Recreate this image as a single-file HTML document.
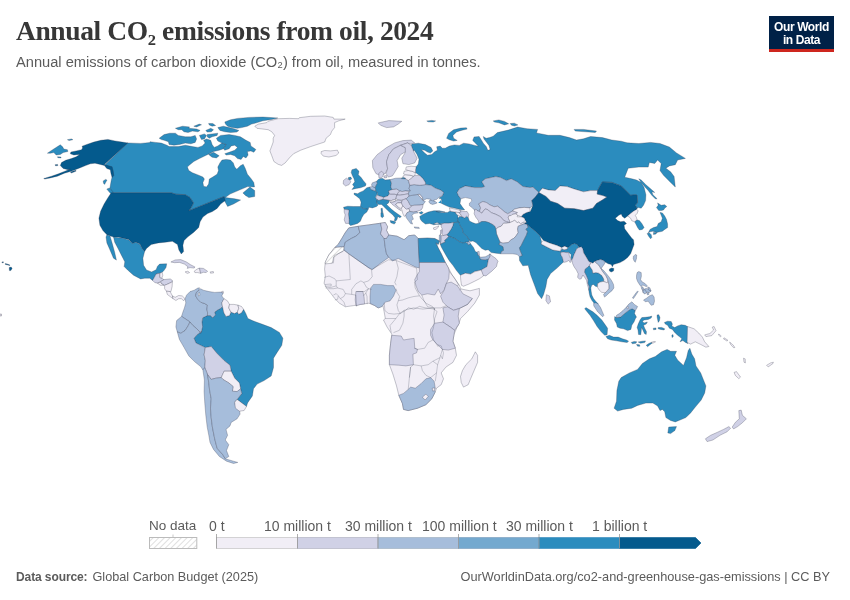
<!DOCTYPE html>
<html><head><meta charset="utf-8"><title>Annual CO₂ emissions from oil, 2024</title>
<style>
html,body{margin:0;padding:0;background:#fff;}
body{width:850px;height:600px;position:relative;overflow:hidden;font-family:"Liberation Sans",sans-serif;}
#title{position:absolute;left:16px;top:15px;font-family:"Liberation Serif",serif;font-weight:bold;font-size:27.5px;line-height:32px;color:#373737;white-space:nowrap;letter-spacing:-0.39px;}
#sub{position:absolute;left:16px;top:52px;font-size:14.65px;line-height:20px;color:#5b5b5b;white-space:nowrap;}
#logo{position:absolute;left:769px;top:16px;width:65px;height:36px;background:#002147;border-bottom:0;}
#logo .t{position:absolute;left:0;right:0;top:5px;text-align:center;color:#fff;font-weight:bold;font-size:12px;line-height:13px;letter-spacing:-0.4px;}
#logo .r{position:absolute;left:0;right:0;bottom:0;height:3px;background:#ce261e;}
#map{position:absolute;left:0;top:0;}
#countries path{stroke:#2a2f45;stroke-opacity:0.55;stroke-width:0.5;stroke-linejoin:round;}
#countries path.b{fill:none;stroke:#2a2f45;stroke-opacity:0.45;stroke-width:0.5;}
.lg{position:absolute;top:518px;font-size:14px;line-height:16px;color:#5b5b5b;white-space:nowrap;}
#src{position:absolute;left:16px;top:568px;font-size:12.7px;line-height:18px;color:#5b5b5b;white-space:nowrap;}
#url{position:absolute;right:20px;top:568px;font-size:12.75px;line-height:18px;color:#5b5b5b;white-space:nowrap;}
</style></head><body>
<div id="title">Annual CO₂ emissions from oil, 2024</div>
<div id="sub">Annual emissions of carbon dioxide (CO₂) from oil, measured in tonnes.</div>
<div id="logo"><div class="t">Our World<br>in Data</div><div class="r"></div></div>
<svg id="map" width="850" height="600" viewBox="0 0 850 600">
<defs><pattern id="hatch" width="4" height="4" patternUnits="userSpaceOnUse" patternTransform="rotate(45)"><rect width="4" height="4" fill="#fff"/><line x1="0" y1="0" x2="0" y2="4" stroke="#d2d2d2" stroke-width="1.4"/></pattern></defs>
<g id="countries">
<path d="M127.6,142.9L140.6,143.4L150,142.5L150,141.7L155.6,142.4L161.3,143.1L166.9,145.2L169.1,146.6L178.2,146.6L185.3,145.2L192.4,146.6L198,147.4L202.2,145.9L205.1,143.1L203.6,140.3L206.5,138.9L210.7,140.3L212.1,144.5L214.2,147.4L217.8,145.9L222,143.1L226.2,144.5L223.4,148.8L219.2,150.2L213.5,151.6L209.3,153.7L205.1,155.8L199.4,158.6L193.8,161.5L189.5,165L187.4,167.1L188.8,170.6L192.4,172.8L198,174.9L202.9,177L204.4,179.1L202.9,182.6L203.6,186.2L206.5,186.9L208.6,184.1L209.3,179.1L212.8,177L217.1,174.2L218.5,170.6L217.8,167.1L219.9,162.9L222,160.1L226.2,159.4L230.5,160.1L233.3,162.9L234.7,167.1L236.8,169.2L240.4,165.7L243.2,164.3L245.3,168.5L247.4,174.2L250.9,178.4L253.8,182.6L254.5,186.9L247.6,186.6L238.2,190.6L230,194.1L225.3,197.6L234.7,198.8L240.6,200L233.5,204L227.6,206.4L224.1,200L224.1,196.6L218.2,198.9L210,202.2L199.4,206.5L188.8,210.7L191.2,207.6L193.5,202.9L190,197.5L185.3,194.7L175.9,194.2L171.2,192.8L111.2,192.8L110,187.6L111.2,180.6L112.4,175.9L111.2,168.8L105.3,164.6Z" fill="#2b8cbe"/>
<path d="M216.4,138.2L220.6,135.4L229.1,134.6L234.7,135.4L240.4,136.8L246,140.3L250.2,142.4L250.9,145.9L255.9,149.5L253.8,152.3L250.9,150.9L247.4,151.6L248.1,155.1L246,157.9L243.2,156.5L241.1,159.4L237.5,158.6L234.7,155.8L230.5,154.4L226.2,155.1L224.8,153.7L229.1,152.3L234.7,150.2L237.5,147.4L234.7,145.2L231.2,145.9L229.1,148.8L224.8,150.2L223.4,148.8L226.2,144.5L222,143.1L217.8,141Z" fill="#2b8cbe"/>
<path d="M208.6,154.4L213.5,152.3L219.2,155.8L216.4,157.9L212.1,157.2Z" fill="#2b8cbe"/>
<path d="M159.2,138.2L164.1,134.6L169.8,133.2L175.4,133.2L178.2,135.4L185.3,136.8L190.9,136.8L195.2,135.4L196.6,138.9L195.2,142.4L190.9,143.8L185.3,143.1L179.6,144.5L174,145.2L169.1,144.5L168.4,141.7L164.1,140.3L161.3,139.6Z" fill="#2b8cbe"/>
<path d="M175.4,128.3L182.5,126.2L189.5,126.9L188.8,128.3L196.6,129L200.1,130.4L198,131.8L192.4,131.1L188.1,132.5L183.9,131.8L181.8,129.7L178.2,129.7Z" fill="#2b8cbe"/>
<path d="M193.8,126.2L199.4,124.1L201.5,124.8L196.6,126.9Z" fill="#2b8cbe"/>
<path d="M205.8,130.4L210.7,128.3L213.5,129.7L211.4,131.8L207.2,132.1Z" fill="#2b8cbe"/>
<path d="M208.6,123.4L212.8,123.6L215.6,125.5L212.1,126.2L209.3,125Z" fill="#2b8cbe"/>
<path d="M199.4,135.4L204.4,133.9L206.5,135.4L204.4,138.9L201.5,139.6Z" fill="#2b8cbe"/>
<path d="M207.2,134.6L212.1,133.9L217.8,133.2L217.1,135.4L212.1,136.8L209.3,138.2L207.2,136.8Z" fill="#2b8cbe"/>
<path d="M217.8,127.6L223.4,126.2L229.1,127.6L234.7,129L238.9,130.4L236.8,132.1L230.5,132.5L224.8,131.8L219.9,130.4Z" fill="#2b8cbe"/>
<path d="M224.8,121.9L230.5,119.8L237.5,118.4L248.8,117.4L262.9,117L277.8,118L271.4,119.5L262.9,120.8L257.3,122.6L251.6,124.1L247.4,126.2L241.8,127.6L237.5,128.3L231.9,127.6L227.6,126.2L225.5,124.1Z" fill="#2b8cbe"/>
<path d="M242.9,192.9L250,187.1L254.7,190.6L254.7,196.5L248.8,197.6L245.3,195.3Z" fill="#2b8cbe"/>
<path d="M82.1,146.2L86.8,144.4L93.8,142.1L100.9,140.3L107.9,139.4L115,140.9L122.1,142.1L127.9,142.9L104.4,164.4L107.9,165.6L112.1,166.8L113.2,170.9L113.8,175.6L112.1,177.4L110.9,173.2L110.3,169.7L106.8,168.5L104.4,165.6L100.3,164.4L95,163.2L90.3,163.8L85.6,165.6L79.7,167.9L73.8,170.3L70.3,171.5L64.4,173.2L57.4,176.2L50.3,177.9L44.4,179.1L43.8,178.5L51.5,176.2L58.5,173.8L65.6,170.9L70.3,169.1L67.9,169.7L63.2,168.5L60.3,165.6L61.5,162.6L65.6,160.3L71.5,158.5L76.2,156.8L79.7,154.4L73.8,155L70.3,153.8L70.9,152.1L76.2,150.9L81.5,149.7L82.6,147.9Z" fill="#045a8d"/>
<path d="M70.3,172.1L75.6,170.3L76.2,171.1L71.5,173Z" fill="#045a8d"/>
<path d="M103.2,180.9L105.6,179.4L107,180.1L105.6,182.6L104.6,184.4L103.5,183.2Z" fill="#2b8cbe"/>
<path d="M106.8,189.1L109.7,187.9L113.2,192.1L112.1,194.4L109.7,192.6Z" fill="#2b8cbe"/>
<path d="M111.2,192.8L171.2,192.8L175.9,194.2L185.3,194.7L190,197.5L193.5,202.9L191.2,207.6L188.8,210.7L199.4,206.5L210,202.2L218.2,198.9L224.1,196.6L225.3,200.6L220.6,204.1L217.1,208.4L212.4,211.6L207.6,213.5L202.9,217.1L200.1,221.8L198.7,227.6L193.5,232.4L187.6,237.1L184.1,240.6L182.9,245.3L183.6,251.6L181.3,254L178.9,250L177.5,244.6L172.4,241.3L165.3,242.2L158.2,242.9L151.2,244.6L146.5,248.4L144.6,251.6L142.2,248.8L139.9,244.1L135.9,242.2L132.4,243.6L128.8,239.4L122.9,238.2L118.2,237.1L113.5,237.1L106.9,234.7L102.9,230.5L99.9,225.3L98.9,218.2L100.6,211.2L104.1,204.1L107.6,198.2Z" fill="#045a8d"/>
<path d="M106.9,234.7L110,235.9L112.4,244.1L114.7,252.4L116.4,260.1L113.5,258.2L110,250L106.9,242.9L106,237.1Z" fill="#2b8cbe"/>
<path d="M113.5,237.1L122.9,238.2L128.8,239.9L132.4,243.6L135.9,242.2L139.9,244.6L142.2,248.8L144.6,251.6L142.9,258.2L143.6,265.3L146.5,270L151.6,271.9L156.1,269.8L157.5,266.2L159.6,264.1L166.7,263.8L166,267.6L163.9,270.5L162.2,272.3L159.6,273.3L156.1,274L154.7,276.8L152.6,280.4L149.8,278.2L144.8,278.2L140.6,278.9L133.5,275.2L127.6,270L124.1,266.5L124.8,261.8L121.8,255.9L118.2,248.8L114.7,242.2Z" fill="#2b8cbe"/>
<path d="M152.6,280.4L154.7,276.8L156.1,274L159.6,273.3L159.9,277.5L161.8,278.2L163.9,279.6L160.4,281.8L157.5,283.2L154.7,282.5Z" fill="#d0d1e6"/>
<path d="M159.9,273.3L162.2,272.3L162.8,275.4L161.8,278.2L159.9,277.5Z" fill="#f1eef6"/>
<path d="M160.4,281.8L163.9,279.6L170.2,278.9L172.4,280.4L172.4,281.8L168.1,283.9L164.6,285.3L161.8,283.9Z" fill="#d0d1e6"/>
<path d="M157.5,283.2L160.4,282.2L161.8,283.9L163.9,285.3L160.4,285.3Z" fill="#f1eef6"/>
<path d="M164.6,285.3L168.1,283.9L172.4,281.8L172.1,286.7L170.9,291.6L166.4,291.2L164.6,288.8Z" fill="#f1eef6"/>
<path d="M166.4,291.2L170.2,291.6L172.4,295.9L173.1,298.7L170.2,296.6L167.4,294.5Z" fill="#f1eef6"/>
<path d="M172.4,295.9L175.2,297.3L178.7,295.5L182.2,295.9L185.1,298.7L183.6,300.8L181.5,298.7L178.7,298.7L175.9,300.5L173.1,298.7Z" fill="#f1eef6"/>
<path d="M170.9,262L175.2,259.9L180.8,259.6L186.5,262L190.7,264.8L194.9,266.9L194.2,268.1L190,267.6L187.2,268.4L187.9,266.7L184.4,264.1L179.4,262.4L174.5,262.7Z" fill="#d0d1e6"/>
<path d="M194.2,271.2L197.1,269.1L199.2,268.1L199.9,269.8L200.6,273.3L197.8,272.6L194.9,272.6Z" fill="#f1eef6"/>
<path d="M199.2,268.1L203.4,268.4L207.6,271.2L206.2,272.6L203.4,272.3L200.6,273.3L199.9,269.8Z" fill="#d0d1e6"/>
<path d="M185.1,271.9L187.9,271.2L189.6,272.6L187.2,273.4Z" fill="#f1eef6"/>
<path d="M210.2,271.9L213.3,271.5L213.6,272.9L210.5,273.2Z" fill="#f1eef6"/>
<path d="M221.5,291.6L223.2,291.2L223.5,292.8L221.8,293.1Z" fill="#f1eef6"/>
<path d="M254.8,126.2L258.4,124.1L266.8,122.6L268.2,121.2L278.1,118.7L289.4,118.4L298.6,118.7L299.3,117.7L310.6,116.3L324.7,116L333.2,117.4L333.9,119.1L345.2,119.1L338.8,120.8L334.6,122.6L334.6,127.6L331.8,131.1L330.4,134.6L326.1,138.2L324.7,142L319.1,143.8L310.6,146.6L300.7,150.2L293.6,153.7L289.4,157.9L285.2,162.9L281.6,165.4L278.1,164.3L273.9,161.5L271.8,155.8L269.9,150.9L271.8,145.9L273.2,142L273.2,138.2L274.6,135.4L271.8,131.8L268.2,129.7L262.6,129L256.9,128.3Z" fill="#f1eef6"/>
<path d="M321.2,151.6L324.7,150.5L330.4,150.9L337.4,150.2L338.8,153L336,155.5L328.9,157L323.3,156.1L321.2,153.7Z" fill="#f1eef6"/>
<path d="M202,322L202.7,317.8L207.4,315.6L210.5,315.6L212.6,317.8L215.4,314.9L214.7,312.1L217.5,310L220.4,308.6L222.5,306.5L223.9,312.8L226,316.4L229.5,315.6L230.9,312.1L234.5,313.5L237.3,312.1L238.7,314.2L241.5,312.8L243.6,309.3L245.8,313.5L247.9,318.5L252.4,320.6L261.8,324.1L271.2,327.6L279.4,332.4L282.9,338.2L281.8,345.3L277.1,352.4L273.5,358.2L273.5,367.6L271.2,375.9L264.1,380.6L257.1,384.1L253.5,388.8L252.4,395.9L247.6,402.9L246.5,406.5L241.8,402.9L237.1,399.4L241.8,393.5L240.6,388.8L239.4,382.9L234.7,378.2L231.2,371.2L230,365.3L224.1,360.6L217.1,353.5L211.2,346.5L205.3,347.6L200.6,345.3L195.9,342.9L194,338.2L197.1,334.7L201.8,331.2Z" fill="#2b8cbe"/>
<path d="M185.1,298.7L186.5,295.2L190,291.6L194.2,290.2L197.8,288.1L199.5,287.8L198.9,290.2L196.4,292.4L195.6,295.9L197.8,299.4L200.6,302.2L204.8,303.6L207.4,305.1L206.9,309.3L207.6,312.8L207.4,315.6L202.7,317.8L202,322L202.7,326.9L200.6,333.3L199.2,331.2L196.4,328.4L192.8,325.5L190,322L185.8,319.2L181.5,316.4L182.9,312.1L184.4,307.9L185.8,302.9Z" fill="#a6bddb"/>
<path d="M198.9,290.2L200.6,288.8L203.4,290.2L209.1,291.6L214.7,292.4L220.4,292.1L223.2,293.1L221.8,295.9L223.9,298.7L221.8,302.9L222.5,306.5L220.4,308.6L217.5,310L214.7,312.1L215.4,314.9L212.6,317.8L210.5,315.6L207.4,315.6L207.6,312.8L206.9,309.3L207.4,305.1L204.8,303.6L200.6,302.2L197.8,299.4L195.6,295.9L196.4,292.4Z" fill="#a6bddb"/>
<path d="M198.2,293.1L199.5,292.4L199.9,295.2L198.5,295.9Z" fill="#ffffff"/>
<path d="M223.9,298.7L227.4,300.8L229.5,304.4L228.8,307.9L230.9,312.1L229.5,315.6L226,316.4L223.9,312.8L222.5,306.5L221.8,302.9Z" fill="#f1eef6"/>
<path d="M229.5,304.4L233.8,304.4L238,305.1L238.7,308.6L237.3,312.1L234.5,313.5L230.9,312.1L228.8,307.9Z" fill="#f1eef6"/>
<path d="M238,305.1L241.5,306.5L243.6,309.3L241.5,312.8L238.7,314.2L237.3,312.1L238.7,308.6Z" fill="#f1eef6"/>
<path d="M176.6,320.6L181.5,316.4L185.8,319.2L190,322L187.9,326.2L185.1,330.5L180.8,333.3L177.3,331.9L175.9,326.9Z" fill="#a6bddb"/>
<path d="M177.3,331.9L180.8,333.3L185.1,330.5L187.9,326.2L190,322L192.8,325.5L196.4,328.4L199.2,331.2L200.6,333.3L201.8,331.2L197.1,334.7L194,338.2L195.9,342.9L200.6,345.3L205.3,347.6L204.1,354.7L205.3,360.6L204.8,367.6L202.9,370L200.6,366.5L194.7,361.8L188.8,355.9L184.1,347.6L179.4,339.4Z" fill="#a6bddb"/>
<path d="M205.3,347.6L211.2,346.5L217.1,353.5L224.1,360.6L230,365.3L231.2,371.2L224.1,371.2L221.3,377.5L215.9,378.2L211.2,379.4L207.6,374.7L204.8,367.6L205.3,360.6L204.1,354.7Z" fill="#d0d1e6"/>
<path d="M224.1,371.2L231.2,371.2L234.7,378.2L239.4,382.9L240.6,388.8L237.1,391.6L232.4,391.2L233.1,386.5L228.8,382.9L222.9,379.4L221.3,377.5Z" fill="#f1eef6"/>
<path d="M202.9,370L204.8,367.6L207.6,374.7L208.8,382.9L209.5,389.4L211.2,398.8L210.5,408.2L211.2,417.6L212.4,427.1L214.7,438.8L217.1,448.2L222.9,454.8L225.3,458.8L233.5,461.2L237.8,462.4L233.5,463.5L226.5,461.2L219.4,456.5L213.5,449.4L210,442.4L208.8,435.3L207.2,427.1L205.8,415.3L204.8,403.5L204.1,391.8L204.4,380Z" fill="#a6bddb"/>
<path d="M207.6,374.7L211.2,379.4L215.9,378.2L221.3,377.5L222.9,379.4L228.8,382.9L233.1,386.5L232.4,391.2L237.1,391.6L240.6,388.8L241.8,393.5L237.1,399.4L234.7,401.8L234.7,402.4L235.9,407.1L239.4,409.4L240.1,414.1L237.1,418.8L231.2,422.4L230,425.9L226,429.4L227.6,435.3L225.3,440L228.8,444.7L226.5,450.6L228.8,456.5L225.3,458.8L222.9,454.8L217.1,448.2L214.7,438.8L212.4,427.1L211.2,417.6L210.5,408.2L211.2,398.8L209.5,389.4L208.8,382.9Z" fill="#a6bddb"/>
<path d="M237.1,399.4L241.8,402.9L246.5,406.5L244.1,410.5L239.4,411.2L235.4,408.1L234.7,402.5Z" fill="#f1eef6"/>
<path d="M412,143.9L418.4,143.2L425.4,144.6L431.1,147.5L432.8,151L430.4,153.1L427.5,152L424.7,150.3L421.2,149.6L424.7,153.1L427.5,155.2L431.8,154.5L434.6,151.7L437.4,150.3L436.7,146.8L440.2,146.1L442.4,148.2L445.2,148.2L449.4,146.1L454.4,144.9L459.3,145.4L463.5,143.2L469.2,143.9L474.8,145.4L478.4,146.3L475.5,143.2L472.7,140.4L474.1,136.9L479.1,136.5L481.2,139.7L483.3,143.2L486.4,146.8L487.8,150.3L490.1,149.6L488.9,145.4L486.1,141.8L484,139L483.3,136.5L486.1,138.3L489.6,137.6L493.2,136.2L497.4,132.6L508.2,130.1L517.6,127.1L527.1,128.7L537.6,129.4L536.5,132.9L548.2,135.3L560,135.3L569.4,137.6L576.5,140L583.5,138.8L590.6,136.5L602.4,137.6L611.8,140L621.2,141.2L627.1,142.8L638.8,143.5L650.6,142.4L660,143.5L669.4,147.1L676.5,152.9L685.4,158.4L677.6,160L675.3,164.7L669.4,165.9L665.9,168.2L670.6,171.8L674.1,176.5L675.3,187.1L670.6,182.4L663.5,175.3L660,170.6L661.2,163.5L657.6,160L654.8,163.5L649.4,162.4L648.2,167.1L638.8,167.1L628.2,168.2L624.7,177.2L631.8,178.8L636.5,180L641.2,182.4L644.1,187.6L645.9,194.7L645.6,200.6L643.5,205.3L641.2,208.2L638.2,207.6L637.1,208.2L635.3,205.3L637.6,202.4L637.1,195.3L635.3,194.7L630.6,195.3L625.9,190.6L621.2,185.9L611.8,182.4L602.4,181.9L600,185.9L597.6,190.6L590.6,190.6L583.5,191.8L574.1,188.9L567.1,186.6L560,185.9L555.3,190.6L548.2,189.9L542.4,188.2L538.8,192.5L532.9,187.1L530,187.6L522.9,186.5L517.1,181.8L511.2,178.8L506.5,180.6L500.6,177.6L495.9,176.5L485.3,178.8L481.8,181.8L484.7,186.5L481.8,187.6L474.7,187.6L465.3,185.9L459.4,188.8L457.1,192.4L458.2,195.3L460.8,198.8L460,203.5L462.4,207.1L464.7,210L460,209.4L455.3,208.2L449.4,207.1L445.3,205.3L441.2,203.2L441.8,200.8L441.2,198.8L438.8,198.2L442.3,195.9L443.7,192.4L440.9,190.2L435.2,188.1L431,185.3L425.4,184.6L425.4,182.5L423.2,178.9L419.7,175.4L415.5,172.6L415.5,169.8L416.2,166.7L418.3,164.1L419,159.2L416.9,154.2L414.1,150L413.5,151.2L411.2,145.3Z" fill="#2b8cbe"/>
<path d="M446.6,138.3L448.7,133.4L453.6,129.8L460.7,128.1L466.4,127.7L467.1,129.1L462.1,130.2L456.5,131.9L452.9,135.5L453.6,138.3L457.2,140.4L453.6,141.1L449.4,139.7Z" fill="#2b8cbe"/>
<path d="M426.8,120.9L431.8,120.4L435.6,120.9L433.2,122.1L428.2,121.8Z" fill="#2b8cbe"/>
<path d="M493.2,120.9L498.8,119.9L504.5,121.4L508.7,123.8L504.5,124.9L498.8,122.8L494.6,122.1Z" fill="#2b8cbe"/>
<path d="M510.1,123.5L514.4,123.2L517.9,124.9L514.4,126L511.5,125.2Z" fill="#2b8cbe"/>
<path d="M574.1,129.4L583.5,129.4L596.5,131.1L595.3,132.5L585.9,131.8L575.3,131.1Z" fill="#2b8cbe"/>
<path d="M638.8,178.8L641.2,180L645.9,184.7L650.6,188.8L654.7,192.4L651.8,191.8L652.9,194.7L657.1,198.8L655.3,198.8L651.8,195.3L648.2,190.6L644.1,185.9L641.2,182.4Z" fill="#2b8cbe"/>
<path d="M401.4,178L403.5,177.2L405.6,178.2L405.6,178.9L401.4,178.7Z" fill="#2b8cbe"/>
<path d="M47.4,153.2L52.6,149.7L60.3,144.8L62.6,146.8L63.8,149.1L67.4,149.7L67.9,151.5L63.2,152.6L60.3,154.4L56.2,155L53.8,152.6L50.3,153.2Z" fill="#2b8cbe"/>
<path d="M67.4,139.7L71.5,138.9L72.9,139.7L69.1,140.6Z" fill="#2b8cbe"/>
<path d="M57.4,156.8L60.9,157L61.1,157.9L57.9,157.7Z" fill="#2b8cbe"/>
<path d="M55,164.8L57.6,164.4L57.9,165.6L55.6,165.8Z" fill="#045a8d"/>
<path d="M378.2,122.9L388.8,120.6L401.8,121.3L398.2,124.1L393.5,126.9L386.5,127.6L380.6,125.3Z" fill="#d0d1e6"/>
<path d="M372.4,160.6L377.1,154.7L386.5,147.6L394.7,142.9L402.9,140.6L411.2,140.1L414.7,142.9L410,144.1L407.6,142.9L400.6,145.3L393.5,148.8L388.8,154.7L386.5,161.8L387.6,168.8L385.3,173.5L380.6,175.9L375.9,173.5L372.8,167.6Z" fill="#d0d1e6"/>
<path d="M386.5,161.8L388.8,154.7L393.5,148.8L400.6,145.3L405.3,147.6L406.5,151.2L400.6,154.7L397.1,160.6L398.2,166.5L394.7,172.4L392.4,175.9L388.4,177.1L386,173.5L387.6,168.8Z" fill="#d0d1e6"/>
<path d="M400.6,145.3L407.6,142.9L411.2,145.3L413.5,151.2L417.1,158.2L414.7,162.9L408.8,164.6L402.9,163.6L401.8,158.2L405.3,152.4L405.3,147.6Z" fill="#d0d1e6"/>
<path d="M351.9,169.8L356.2,168.4L359,171.2L358.3,174.7L361.1,177.5L363.2,180.4L366.1,183.9L365.4,186L360.4,187.8L356.2,188.4L351.9,189.5L354.1,186.7L352.6,184.6L354.8,181.8L354.1,178.9L352.6,176.1L351.2,172.6Z" fill="#2b8cbe"/>
<path d="M348.4,177.5L350.8,177.1L351.7,178.9L349.8,179.9L348.4,179.4Z" fill="#2b8cbe"/>
<path d="M343.5,180.4L346.3,178.2L348.4,179.4L349.8,179.9L350.8,181.8L349.1,184.6L345.6,186L343.2,183.9Z" fill="#d0d1e6"/>
<path d="M354.1,193.1L357.6,193.8L359.7,192.4L363.2,190.9L366.8,187.8L369.6,187L371,189.5L375.2,190.9L377.4,192.4L376.6,195.2L375.2,197.3L377.4,199.4L376.6,202.9L378.1,205.1L376.6,206.5L372.4,207.9L368.9,207.2L368.2,209.3L363.2,208.6L360.4,206.5L361.1,202.2L359.7,198.7L356.2,195.9L354.1,194.5Z" fill="#2b8cbe"/>
<path d="M380.9,208.6L382.3,208.2L382.7,212.1L381.3,212.8Z" fill="#2b8cbe"/>
<path d="M343.5,207.2L347.7,206.2L353.4,206.5L360.4,206.5L363.2,208.6L368.2,209.3L366.8,212.1L363.9,214.2L361.8,217.8L360.4,221.3L357.6,223.4L353.4,224.8L350.5,225.5L349.1,224.1L349.1,219.2L348.4,214.2L349.1,210L344.2,209.3Z" fill="#2b8cbe"/>
<path d="M344.2,209.3L349.1,210L348.4,214.2L349.1,219.2L349.1,223.4L345.6,223.4L344.2,219.9L345.2,214.9L344.2,212.1Z" fill="#d0d1e6"/>
<path d="M369.6,187L372.4,186.4L375.2,187.8L375.9,190.2L375.2,190.9L371,189.5Z" fill="#a6bddb"/>
<path d="M372.4,182.8L376.6,181.3L377.4,183.2L375.9,186L375.2,187.8L372.4,186.4L371.4,185Z" fill="#a6bddb"/>
<path d="M376.6,181.3L378.8,178.9L382.3,178.2L385.1,179.9L390.1,179.6L391.5,183.2L390.8,187L392.2,189.5L388.6,190.9L389.4,193.8L387.9,195.9L383.7,197.3L380.2,196.3L377.4,195.2L377.4,192.4L375.2,190.9L375.9,190.2L375.2,187.8L375.9,186L377.4,183.2Z" fill="#2b8cbe"/>
<path d="M378.8,173.3L381.6,171.2L383.7,173.3L383,176.1L380.9,178L378.8,177.5Z" fill="#d0d1e6"/>
<path d="M383.7,176.1L386.5,175.4L387,177.5L384.4,178Z" fill="#d0d1e6"/>
<path d="M375.9,197.3L377.4,195.2L380.2,196.3L383.7,197.3L383,199.4L378.8,200.5L376.6,199.7Z" fill="#d0d1e6"/>
<path d="M383.7,197.3L387.9,195.9L389.4,193.8L390.8,194L394.3,194L397.1,194.9L396.4,196.6L395.7,199.1L391.5,200.5L387.2,200.1L383,199.4Z" fill="#d0d1e6"/>
<path d="M377.4,199.4L378.8,200.5L383,199.4L387.2,200.1L389.4,200.5L388.6,202.9L386.5,204.4L388.6,206.5L391.5,209.3L395,212.1L399.2,214.9L401.4,216.6L399.9,217.8L397.8,216.4L397.1,219.2L395.7,221.3L394.3,220.6L395,217.8L392.9,214.9L389.4,212.1L386.5,209.3L383.7,206.5L381.6,204.4L378.8,204.4L376.6,202.9Z" fill="#2b8cbe"/>
<path d="M390.1,220.6L394.3,221.3L395.7,222.3L394.3,224.1L390.8,222.7Z" fill="#2b8cbe"/>
<path d="M380.9,212.8L383,212.4L383.7,216.4L382.3,217.8L380.9,216.6Z" fill="#2b8cbe"/>
<path d="M388.6,190.9L392.2,189.5L396.4,188.8L399.9,190.9L397.8,193.1L397.1,194.9L394.3,194L390.8,194L389.4,193.8Z" fill="#d0d1e6"/>
<path d="M391.5,183.2L390.1,179.6L395.7,178.2L401.4,178L401.4,178.7L405.6,178.9L408.4,180.4L409.8,185.3L409.1,188.8L410.5,190.9L405.6,190.9L402.1,191.6L399.9,190.9L396.4,188.8L392.2,189.5L390.8,187Z" fill="#a6bddb"/>
<path d="M397.8,193.1L399.9,190.9L402.1,191.6L405.6,190.9L409.1,191.6L408.4,193.8L404.2,194.5L399.9,195.2L397.1,194.9Z" fill="#d0d1e6"/>
<path d="M396.4,196.6L397.1,194.9L399.9,195.2L404.2,194.5L408.4,193.8L409.1,195.9L406.3,198.7L402.1,200.1L398.5,200.1L396,198.7Z" fill="#d0d1e6"/>
<path d="M389.4,200.5L391.5,200.5L395.7,199.1L396,200.8L392.9,202.2L390.1,202.2Z" fill="#f1eef6"/>
<path d="M390.1,202.2L392.9,202.2L396,200.8L398.5,200.1L402.1,200.8L401.4,202.9L397.8,202.9L395.7,204.4L398.5,207.9L401.4,210.7L398.5,209.3L395,206.5L392.2,204.4Z" fill="#d0d1e6"/>
<path d="M395.7,204.4L397.8,202.9L401.4,202.9L402.8,205.8L401.4,208.6L399.2,207.9Z" fill="#f1eef6"/>
<path d="M402.1,200.1L406.3,198.7L408.4,201.5L409.8,204.4L411.2,206.5L409.1,208.6L406.3,209.3L404.2,207.2L402.8,205.8L401.4,202.9L402.1,200.8Z" fill="#d0d1e6"/>
<path d="M401.4,208.6L402.8,205.8L404.2,207.2L406.3,209.3L409.1,208.6L409.8,211.4L407,212.8L405.6,215.6L404.2,216.4L402.8,213.5L402.1,210.7Z" fill="#f1eef6"/>
<path d="M406.3,198.7L409.1,195.9L414.1,194.9L417.6,194.5L421.1,198L423.2,200.8L425.4,201.5L423.2,204.4L419.7,205.1L414.1,205.3L411.2,205.8L409.8,204.4L408.4,201.5Z" fill="#a6bddb"/>
<path d="M411.2,206.5L411.2,205.8L414.1,205.3L419.7,205.1L423.2,204.4L422.5,207.9L421.1,210L416.9,211.4L413.4,212.1L409.8,211.4L409.1,208.6Z" fill="#d0d1e6"/>
<path d="M405.6,215.6L407,212.8L409.8,211.4L413.4,212.1L416.9,211.4L418.3,212.8L414.1,213.5L411.9,215.2L413.4,219.2L411.2,220.6L412.6,224.1L410.5,223.4L408.4,220.6L406.3,217.8Z" fill="#a6bddb"/>
<path d="M414.1,226.9L419,227.4L419.4,228.4L414.8,228.1Z" fill="#a6bddb"/>
<path d="M417.6,194.5L419.7,194L422.5,197.3L423.2,200.1L421.1,198Z" fill="#f1eef6"/>
<path d="M409.1,188.8L409.8,185.3L414.1,184.6L419.7,185.3L425.4,184.6L431,185.3L435.2,188.1L440.9,190.2L443.7,192.4L442.3,195.9L438.8,197.3L436.6,199.4L433.8,200.1L435.2,202.9L432.4,203.6L429.6,201.5L431,199.4L426.8,198.7L423.9,200.1L423.2,200.8L422.5,197.3L419.7,194L417.6,194.5L414.1,194.9L409.1,195.9L408.4,193.8L409.1,191.6L410.5,190.9Z" fill="#a6bddb"/>
<path d="M409.8,185.3L408.4,180.4L411.2,178.2L413.4,176.1L414.8,175.4L419.7,175.4L423.2,178.9L425.4,182.5L425.4,184.6L419.7,185.3L414.1,184.6Z" fill="#d0d1e6"/>
<path d="M402.8,176.1L405.6,174.7L409.8,175.1L413.4,176.1L411.2,178.2L408.4,180.4L405.6,178.9L405.6,178.2L403.5,177.2Z" fill="#f1eef6"/>
<path d="M404.2,171.2L408.4,170.5L411.9,171.2L415.5,172.6L414.8,175.4L413.4,176.1L409.8,175.1L405.6,174.7L403.5,174Z" fill="#f1eef6"/>
<path d="M406.3,166.9L411.2,166.2L416.2,166.7L415.5,169.8L415.5,172.6L411.9,171.2L408.4,170.5L405.6,169.5Z" fill="#f1eef6"/>
<path d="M419,212.8L421.8,211.4L423.2,212.8L421.1,214.2Z" fill="#2b8cbe"/>
<path d="M419.7,216.4L423.2,214.2L428.2,212.1L433.8,210.7L439.5,210.7L445.1,212.1L435.9,211.5L441.8,212.6L447.6,212.4L450,210.9L451.8,211.5L455.3,212.1L456.1,213.8L457.6,215L458.2,217.9L457.6,220.3L458.8,222.1L453.5,222.6L448.8,223.2L444.1,223.2L440.6,223.8L437.1,222.6L433.5,223.8L442.3,224.8L439.5,223.4L433.8,224.8L429.6,223.4L425.4,224.1L421.8,221.3L420.4,219.2Z" fill="#2b8cbe"/>
<path d="M433.3,227.9L436.5,226.8L438.8,225.8L438.2,227.4L435.9,229.4L433.8,229.4Z" fill="#f1eef6"/>
<path d="M457.1,192.4L459.4,188.8L465.3,185.9L474.7,187.6L481.8,187.6L484.7,186.5L481.8,181.8L485.3,178.8L495.9,176.5L500.6,177.6L506.5,180.6L511.2,178.8L517.1,181.8L522.9,186.5L530,187.6L532.9,187.1L538.8,192.5L535.3,197.1L531.8,200.6L532.9,205.3L530,207.9L524.1,207.4L519.4,207.9L514.7,209.1L512.4,210.9L510,212.6L507.6,213.8L504.1,211.5L500.6,208.5L497.6,206.2L494.1,206.8L490,205L486.5,202.6L482.9,201.5L478.8,203.8L480.6,207.9L479.4,211.5L477.6,210.9L475.9,209.1L474.7,210.3L472.4,207.9L469.4,205.6L469.4,203.2L471.8,200.9L471.2,198.8L465.3,197.6L460.8,198.8L458.2,195.3Z" fill="#a6bddb"/>
<path d="M538.8,192.5L542.4,188.2L548.2,189.9L555.3,190.6L560,185.9L567.1,186.6L574.1,188.9L583.5,191.8L590.6,190.6L597.6,190.6L597.2,194.1L602.4,195.3L607.1,196.9L602.4,200L596.5,203.5L592.9,208.2L583.5,210.6L574.1,208.7L564.7,208.2L557.6,203.5L550.6,201.2L545.9,196.5Z" fill="#f1eef6"/>
<path d="M538.8,192.5L545.9,196.5L550.6,201.2L557.6,203.5L564.7,208.2L574.1,208.7L583.5,210.6L592.9,208.2L596.5,203.5L602.4,200L607.1,196.9L602.4,195.3L597.2,194.1L597.6,190.6L600,185.9L602.4,181.9L611.8,182.4L621.2,185.9L625.9,190.6L630.6,195.3L635.3,194.7L637.1,195.3L637.6,202.4L635.3,205.3L637.1,208.2L636.5,209.4L633.5,211.2L630.6,213.5L627.6,215.9L624.7,218.2L622.4,216.5L621.2,214.1L618.8,215.3L615.3,218.2L617.6,220.6L620.6,221.8L624.1,221.2L626.5,223.5L624.1,225.3L624.7,228.8L628.2,233.5L631.8,238.2L633.5,239.7L634.1,244.4L632.4,249.1L630.6,253.8L627.6,257.4L624.1,260.3L620,262.6L615.9,263.8L613.5,264.4L612.4,266.8L611.2,264.4L608.2,263.8L605.3,262.1L602.9,260.3L600.6,259.5L597.6,260.3L594.7,261.5L592.9,263.2L591.2,262.6L588.8,261.5L587.1,258.5L585.3,255.6L583.5,252.6L582.9,249.1L581.2,246.8L579.4,247.9L577.6,245L574.7,243.5L571.8,244.4L569.4,246.8L567.6,247.4L564.7,246.2L561.8,247.4L556.5,245.3L549.4,242.9L543.5,240.6L540,235.9L535.3,231.2L530.6,227.6L527.1,224.4L524.1,223.8L526.5,222.3L525.3,220.3L524.1,217.9L521.2,216.8L522.9,214.4L526.5,212.6L530,211.5L530.6,211.2L532.9,205.3L531.8,200.6L535.3,197.1Z" fill="#045a8d"/>
<path d="M609.4,269.1L611.8,267.9L613.9,268.5L613.5,270.9L611.2,272.1L609.4,270.9Z" fill="#045a8d"/>
<path d="M633.5,256.2L635.3,254.4L636.7,255L636.5,258.5L635.3,262.3L634.1,261.1L633.2,258.5Z" fill="#a6bddb"/>
<path d="M627.6,215.9L630.6,213.5L633.5,211.2L636.5,209.4L638.2,210.6L637.1,213.5L635.3,215.3L636.5,217.6L637.1,220L634.7,221.8L631.8,220.8L630.6,218.2Z" fill="#f1eef6"/>
<path d="M634.7,221.8L637.1,220L639.4,220.6L641.8,223.5L644.1,227.6L642.4,229.4L639.4,230L637.6,227.6L636.2,224.7Z" fill="#2b8cbe"/>
<path d="M656.5,207.6L658.2,205.3L657.6,202.9L661.2,205.3L664.7,204.7L666.8,206.5L664.7,208.2L663.5,210L661.2,210.6L658.8,210.6Z" fill="#2b8cbe"/>
<path d="M660,212.4L662.4,212.9L664.7,215.9L666.5,219.4L667.6,224.1L667.6,227.6L664.7,229.4L662.4,231.2L660,231.8L656.5,232.4L652.9,231.2L650,231.8L648.2,232.9L650,229.4L653.5,227.6L657.1,226.5L658.2,223.5L661.2,221.8L662.4,218.2L661.2,215.3Z" fill="#2b8cbe"/>
<path d="M647.1,233.5L649.4,232.9L651.2,234.7L651.8,237.6L650.6,238.8L648.8,236.5Z" fill="#2b8cbe"/>
<path d="M653.5,232.4L657.1,232.4L655.9,234.1L653.5,234.5Z" fill="#2b8cbe"/>
<path d="M478.8,203.8L482.9,201.5L486.5,202.6L490,205L494.1,206.8L497.6,206.2L500.6,208.5L504.1,211.5L507.6,213.8L510,212.6L512.4,210.9L514.7,211.5L517.6,212.6L515.9,213.8L512.4,214.4L511.2,215.6L509.1,215.6L508.2,217.9L509.4,220.3L510,222.6L506.5,221.8L503.5,220.3L500.6,216.8L495.9,214.4L491.2,212.6L487.6,209.7L485.3,208.9L483.5,210.9L481.8,213.2L479.4,211.5L480.6,207.9Z" fill="#d0d1e6"/>
<path d="M474.1,210.3L475.9,209.1L477.6,210.9L479.4,211.5L481.8,213.2L483.5,210.9L485.3,208.9L487.6,209.7L491.2,212.6L495.9,214.4L500.6,216.8L503.5,220.3L506.5,221.8L510,222.6L506.5,223.2L503.5,223.2L501.2,226.2L498.2,227.4L495.9,229.1L494.7,226.2L492.4,224.4L488.8,222.6L485.3,221.5L481.8,221.5L478.8,223.2L478.2,220.3L475.9,217.4L474.1,213.8L474.7,210.3Z" fill="#d0d1e6"/>
<path d="M509.1,215.6L511.2,215.6L512.4,214.4L515.9,213.8L517.6,215.2L517.1,216.8L520.6,216.8L521.2,216.8L524.1,217.9L525.3,220.3L522.9,222.6L520.6,223.8L518.8,222.1L517.1,222.6L514.7,220.3L512.4,221.5L510,222.6L509.4,220.3L508.2,217.9Z" fill="#f1eef6"/>
<path d="M512.4,210.9L514.7,209.1L519.4,207.9L524.1,207.4L530,207.9L530,211.5L526.5,212.6L522.9,214.4L521.2,216.8L517.6,215.2L515.9,213.8L517.6,212.6L514.7,211.5Z" fill="#f1eef6"/>
<path d="M495.9,229.1L498.2,227.4L501.2,226.2L503.5,223.2L506.5,223.2L510,222.6L512.4,221.5L514.7,220.3L517.1,222.6L518.8,222.1L520.6,223.8L522.9,222.6L526.5,222.3L524.1,223.8L521.2,225L518.2,226.2L517.6,229.1L518.2,232.6L515.9,236.2L513.5,238.5L511.2,239.7L508.2,242.6L502.9,243.2L500,242.1L498.2,237.9L496.5,233.8Z" fill="#f1eef6"/>
<path d="M500,242.1L502.9,243.2L508.2,242.6L511.2,239.7L513.5,238.5L515.9,236.2L518.2,232.6L517.6,229.1L518.2,226.2L521.2,225L524.1,223.8L527.1,224.4L528.2,227.4L525.9,229.1L527.6,231.5L526.5,235L524.7,238.5L522.9,242.1L521.2,245.6L519.4,247.9L520.6,251.5L522.4,255.6L519.4,256.8L517.1,254.4L512.4,253.8L506.5,253.8L500.6,253.8L501.2,251.5L503.5,250.3L502.9,246.8L498.8,244.4Z" fill="#a6bddb"/>
<path d="M458.8,222.1L457.6,220.3L458.2,217.9L460,216.2L461.8,216.8L462.4,216.8L464.7,217.9L466.5,216.2L468.2,217.4L469.4,220.9L472.4,222.6L475.9,223.8L478.8,223.2L481.8,221.5L485.3,221.5L488.8,222.6L492.4,224.4L494.7,226.2L495.9,229.1L496.5,233.8L498.2,237.9L500,242.1L498.8,244.4L502.9,246.8L503.5,250.3L501.2,251.5L500.6,253.8L495.9,253.2L491.2,252.6L488.2,249.7L485.3,250.3L481.8,248.5L478.8,245.6L475.9,242.6L472.9,240.9L470.6,241.5L469.4,240.3L467.1,236.8L462.9,232.6L462.4,229.1L460,225.6Z" fill="#2b8cbe"/>
<path d="M527.1,224.4L528.2,227.4L525.9,229.1L527.6,231.5L526.5,235L524.7,238.5L522.9,242.1L521.2,245.6L519.4,247.9L520.6,251.5L522.4,255.6L519.4,256.8L519.5,260.6L522.8,265.8L528.2,265.3L530.6,274.7L534.1,284.1L537.6,293.5L541.6,298.7L543.5,294.7L545.9,286.5L547.1,279.4L550.6,273.5L557.6,267.6L562.4,262.9L563.5,262.1L562.4,257.4L560.9,255L560.6,252.4L563.5,252.1L565.9,252.6L568.8,252.6L571.2,254.4L570.8,257.4L571.8,260.3L572.9,257.9L574.1,254.4L575.3,252.1L576.5,249.1L578.8,247.4L577.6,245L574.7,243.5L571.8,244.4L569.4,246.8L567.6,247.4L567.3,249.1L564.1,249.7L562.1,249.1L560,250.9L560.5,251.2L552.9,250L545.9,246.5L541.2,244.1L541.6,241.8L540,235.9L535.3,231.2L530.6,227.6Z" fill="#2b8cbe"/>
<path d="M541.6,241.8L543.5,240.6L549.4,242.9L556.5,245.3L561.6,247.4L560.5,251.2L552.9,250L545.9,246.5L541.2,244.1Z" fill="#f1eef6"/>
<path d="M561.8,247.4L564.7,246.2L567.6,247.4L567.3,249.1L564.1,249.7L562.1,249.1Z" fill="#f1eef6"/>
<path d="M560.6,252.4L563.5,252.1L565.9,252.6L568.8,252.6L569.4,255.6L570.6,258.5L571.2,261.5L570,262.6L568.8,260.3L567.1,261.5L564.7,262.3L563.5,262.1L562.4,257.4L560.9,255Z" fill="#d0d1e6"/>
<path d="M546.4,294.7L549.4,295.9L550.6,301.8L548.2,304.1L545.9,300.6Z" fill="#d0d1e6"/>
<path d="M578.8,247.4L581.2,246.8L582.9,249.1L583.5,252.6L585.3,255.6L587.1,258.5L588.8,261.5L591.2,262.6L589.4,265.6L587.6,267.4L585.3,269.1L584.7,272.1L586.5,275.6L588.2,279.7L588,283.2L589.4,286.8L588.8,290.3L588.2,287.4L587.3,284.4L586.5,280.3L584.7,277.4L582.9,275L581.2,278.8L579.4,279.1L577.6,277.4L578.2,273.8L576.5,270.3L574.1,266.8L572.7,263.8L571.8,260.3L572.9,257.9L574.1,254.4L575.3,252.1L576.5,249.1Z" fill="#d0d1e6"/>
<path d="M585.3,269.1L587.6,267.4L589.4,265.6L590.6,267.4L592.4,270.3L592.9,273.2L595.9,272.6L598.8,273.2L601.8,275.6L603.8,279.1L603.8,281.5L602.9,281.5L600,282.1L597.6,283.8L597.4,286.8L595.3,286.2L593.5,284.4L591.8,285L590.8,287.9L591.2,291.5L591.8,295L593.5,298.5L595.9,301.5L598.2,303.8L596.5,305L594.1,303.2L591.8,300.3L590,296.8L589.2,293.2L588.8,290.3L589.4,286.8L588,283.2L588.2,279.7L586.5,275.6L584.7,272.1Z" fill="#2b8cbe"/>
<path d="M591.2,262.6L592.9,263.2L594.7,261.5L596.5,263.2L598.8,265L601.2,269.1L603.5,272.6L605.9,275.6L607.6,279.1L608.2,282.1L606.5,282.6L603.8,281.5L603.8,279.1L601.8,275.6L598.8,273.2L595.9,272.6L592.9,273.2L592.4,270.3L590.6,267.4L589.4,265.6Z" fill="#f1eef6"/>
<path d="M594.7,261.5L597.6,260.3L600.6,259.5L602.9,260.3L605.3,262.1L604.1,264.4L602.4,266.8L601.2,268.5L603.5,270.3L606.5,273.8L609.4,277.4L611.8,280.9L613.5,284.4L613.9,287.9L611.8,290.9L608.8,293.2L606.5,295.6L604.5,297.1L603.5,294.4L605.3,292.6L607.1,290.9L608.8,288.5L608.8,285L608.2,282.1L607.6,279.1L605.9,275.6L603.5,272.6L601.2,269.1L598.8,265L596.5,263.2Z" fill="#a6bddb"/>
<path d="M597.6,283.8L600,282.1L602.9,281.5L603.8,281.5L606.5,282.6L608.2,282.1L608.8,285L608.8,288.5L607.1,290.9L605.3,292.6L601.8,292.4L599.4,290.3L597.6,287.4Z" fill="#f1eef6"/>
<path d="M449.4,207.9L455.3,209.1L460,210.3L461.2,212.1L458.8,212.6L455.3,212.1L451.8,211.5L450,210.9Z" fill="#f1eef6"/>
<path d="M455.3,212.1L458.8,212.6L460.8,214.4L461.8,216.8L460,216.2L457.6,215L456.1,213.8Z" fill="#f1eef6"/>
<path d="M460,210.3L464.1,211.5L467.1,211.5L468.8,214.4L468.2,217.4L466.5,216.2L464.7,217.9L462.4,216.8L461.8,216.8L460.8,214.4L458.8,212.6L461.2,212.1Z" fill="#d0d1e6"/>
<path d="M453.5,222.6L458.8,222.1L460,225.6L462.4,229.1L462.9,232.6L467.1,236.8L469.4,240.3L468.8,242.1L465.9,242.1L463.5,243.2L460,242.1L454.7,238.5L448.8,236.2L446.5,235L448.8,232.6L451.2,229.1L452.9,225.6Z" fill="#2b8cbe"/>
<path d="M441.2,224.4L444.1,223.2L448.8,223.2L453.5,222.6L452.9,225.6L451.2,229.1L448.8,232.6L446.5,235L442.9,235.6L441.8,232.6L442.4,229.1L441.2,226.8Z" fill="#d0d1e6"/>
<path d="M440.4,230.3L441.8,229.7L441.8,232.6L440.6,234.4Z" fill="#d0d1e6"/>
<path d="M439.4,235L440.8,234.4L441.2,239.7L440.4,244.4L439.2,239.7Z" fill="#a6bddb"/>
<path d="M441.2,235.6L442.9,235.6L446.5,235L448.8,236.2L447.1,238.5L444.7,240.3L445.3,242.1L441.8,243.5L440.4,244.4L441.2,239.7Z" fill="#d0d1e6"/>
<path d="M467.1,242.1L469.4,241.5L470.6,243.8L468.8,245L467.4,243.8Z" fill="#a6bddb"/>
<path d="M440.4,244.4L441.8,243.5L445.3,242.1L444.7,240.3L447.1,238.5L448.8,236.2L454.7,238.5L460,242.1L463.5,243.2L465.9,242.1L467.4,243.8L468.8,245L470.6,243.8L473.5,247.4L475.3,251.5L477.6,252.6L478,255.2L479.4,255.6L480,258.5L481.8,259.5L485.3,259.7L488.6,259.1L488.2,260.6L487.1,266.5L481.2,270L474.8,271.2L470.6,274.1L465.3,273.2L460.4,275.3L456.5,270.6L452.9,265.3L449.4,260.9L446.5,256.2L443.5,250.9L441.2,246.8Z" fill="#2b8cbe"/>
<path d="M477.6,251.5L479.2,251.5L479.4,255L478,255.2Z" fill="#d0d1e6"/>
<path d="M479.4,257.1L481.8,257.1L485.3,256.8L488.8,255L490,253.8L490.2,256.2L488.6,259.1L485.3,259.7L481.8,259.5L480,258.5Z" fill="#a6bddb"/>
<path d="M488.6,259.1L490.2,256.2L490,253.8L491.8,255.6L495.9,258.5L498.2,261.5L497.6,261.8L496.5,266.5L491.8,271.2L485.9,275.9L482.4,275.2L481.2,270L487.1,266.5L488.2,260.6Z" fill="#d0d1e6"/>
<path d="M460.4,275.3L465.3,273.2L470.6,274.1L474.7,271.8L481.2,270L483.5,275.9L479.4,278.8L474.7,281.2L468.8,284.1L463.5,286.2L461.5,285.3L460.8,280.6Z" fill="#f1eef6"/>
<path d="M348.8,227.9L358.2,226.3L368.8,224.9L380.6,223.2L385.3,222.5L387.6,226.8L386.5,230.3L388.8,235L397.1,236.2L404.1,239.7L408.8,235.7L414.7,235L418.2,238.5L427.6,238.1L434.7,238.5L439.4,240.9L438.2,244.4L435.9,242.8L438.2,247.9L441.3,253.8L444.6,260.9L448.4,267.9L452.1,275L455.6,279.7L459.6,285.6L460.8,288.9L470,290.8L479.4,288.4L479.4,295L474.7,303.2L467.6,311.5L460.6,318.5L458.2,325.6L457.6,325.9L454.1,334.1L452.9,341.2L455.3,348.2L456.5,355.3L452.9,362.4L445.9,367.1L441.2,372.9L443.5,378.8L441.2,384.7L436.5,388.2L435.3,391.8L431.8,398.8L425.9,404.7L417.6,408.2L408.2,410.6L403.5,409.4L402.4,403.5L398.8,395.3L396.5,385.9L392.9,374.1L389.4,364.7L389.4,355.3L390.6,343.5L391.8,334.1L387.1,327.1L383.5,320L385.3,318.5L384.1,311.5L382.9,305.6L378.2,307.9L374.7,305.6L368.8,303.2L360.6,304.4L353.5,305.6L345.3,306.8L339.4,303.2L334.7,298.5L331.2,293.8L326.5,287.9L324.1,283.2L325.3,276.2L324.6,269.1L325.3,262.1L328.8,255L333.5,249.1L338.2,244.4L341.8,238.5L345.3,232.6Z" fill="#f1eef6"/>
<path d="M348.8,227.9L358.2,226.3L359.9,232.6L355.9,236.2L351.2,238.5L345.3,242.1L344.1,246.8L334.7,247.5L338.2,244.4L341.8,238.5L345.3,232.6Z" fill="#a6bddb"/>
<path d="M334.7,247.5L344.1,246.8L344.1,250.3L338.2,253.8L333.5,257.4L332.4,263.2L325.3,263.9L325.3,262.1L328.8,255L333.5,249.1Z" fill="url(#hatch)"/>
<path d="M359.9,232.6L358.2,226.3L368.8,224.9L380.6,223.2L381.8,229.1L380.6,233.8L384.1,238.5L385.3,247.9L386.5,253.8L388.8,257.4L380.6,263.2L372.4,269.6L368.8,267.9L357.1,259.7L344.1,250.3L344.1,246.8L345.3,242.1L351.2,238.5L355.9,236.2Z" fill="#a6bddb"/>
<path d="M380.6,223.2L385.3,222.5L387.6,226.8L386.5,230.3L388.8,235L386.5,238.5L384.1,238.5L380.6,233.8L381.8,229.1Z" fill="#d0d1e6"/>
<path d="M386.5,238.5L388.8,235L397.1,236.2L404.1,239.7L408.8,235.7L414.7,235L418.2,238.5L418.7,252.6L419.4,262.5L419.4,267.9L415.9,267.2L398.2,258.5L392.4,260.9L388.8,257.4L386.5,253.8L385.3,247.9L384.1,238.5Z" fill="#a6bddb"/>
<path d="M418.2,238.5L427.6,238.1L434.7,238.5L439.4,240.9L438.2,244.4L435.9,242.8L438.2,247.9L441.3,253.8L444.6,260.9L445.3,262.5L419.4,262.5L418.7,252.6Z" fill="#2b8cbe"/>
<path d="M419.4,262.5L445.3,262.5L448.4,267.9L449.3,271.5L448.8,278.5L446.5,283.2L444.1,290.3L440.6,293.8L438.2,289.1L434.7,295L427.6,293.8L421.8,295L418.2,291.5L415.9,285.6L414.7,279.7L417.1,275L419.4,271.5L419.4,267.9Z" fill="#d0d1e6"/>
<path d="M446.5,283.2L451.2,282.1L457.1,285.6L460.6,290.3L462.9,293.8L472.4,298.5L467.6,304.4L460.6,307.9L453.5,310.3L447.6,306.8L442.9,302.1L440.6,296.2L444.1,290.3Z" fill="#d0d1e6"/>
<path d="M442.9,307.9L447.6,306.8L453.5,310.3L459.4,308.6L458.2,316.2L459.4,323.2L454.7,330.3L450,326.8L442.9,322.1L444.1,315Z" fill="#d0d1e6"/>
<path d="M434.7,323.2L442.9,322.1L450,326.8L454.7,330.3L454.1,334.1L452.9,341.2L455.3,348.2L448.2,350.1L442.4,349.4L437.6,344.7L432.9,340L430.6,335.3L430.6,329.4Z" fill="#d0d1e6"/>
<path d="M370.7,287.9L373.5,284.4L380.6,284.4L387.6,285.6L393.5,285.6L395.9,290.3L393.5,296.2L390,300.9L385.3,302.1L381.8,306.8L378.2,307.9L374.7,305.6L370,303.2L370,296.2Z" fill="#a6bddb"/>
<path d="M355.9,291.5L362.9,291.5L364.1,297.4L364.6,303.9L360.6,304.4L355.9,305.8L355.2,299.7Z" fill="#d0d1e6"/>
<path d="M391.8,335.3L401.2,336L403.5,340L410.6,338.8L414.1,338.4L414.8,348.2L417.6,349.4L416.5,352.9L412.9,354.1L413.4,364.7L405.9,365.9L398.8,365.2L389.4,364.7L389.4,355.3L390.6,343.5Z" fill="#d0d1e6"/>
<path d="M398.8,395.3L403.5,393.4L408.2,389.4L410.6,387.1L415.3,388.2L421.2,383.5L425.9,378.8L430.6,377.6L434.1,381.2L435.3,388.2L434.1,390.6L435.3,391.8L431.8,398.8L425.9,404.7L417.6,408.2L408.2,410.6L403.5,409.4L402.4,403.5Z" fill="#a6bddb"/>
<path d="M422.4,397.2L425.9,394.1L428.2,396.5L425.2,400Z" fill="#f1eef6"/>
<path d="M432.2,388.2L434.6,387.8L434.8,390.6L432.7,391.1Z" fill="#f1eef6"/>
<path d="M462.4,370.6L465.9,364.7L471.8,358.8L475.3,351.8L477.6,355.3L477.6,362.4L474.1,370.6L470.6,378.8L468.2,384.7L463.5,387.1L461.2,382.4L460.5,376.5Z" fill="#f1eef6"/>
<path d="M593.5,303.5L595.9,302.7L598.2,304.1L600.6,307.6L602.4,311.8L603.9,315.3L602.7,316.8L600.6,314.7L597.6,311.8L595.3,308.2L593.8,305.9Z" fill="#a6bddb"/>
<path d="M590,310L592.9,311.8L597.1,315.3L601.8,320L604.7,324.1L607.6,328.2L607.1,334.7L604.7,335.3L601.2,331.8L597.1,326.5L593.5,320.6L590,315.3L587.1,311.8L584.7,308.8L585.9,307.6Z" fill="#2b8cbe"/>
<path d="M605.9,336.5L609.4,335.3L613.5,337.1L618.2,337.1L622.4,338.8L626.5,340L628.6,341.2L627.1,342.6L621.8,341.8L616.5,340.8L611.2,340L607.6,338.8Z" fill="#2b8cbe"/>
<path d="M631.2,342.4L634.1,341.4L636.8,341.8L635.9,343.2L632.4,343.8Z" fill="#2b8cbe"/>
<path d="M638.2,342L642.4,341.2L645.5,340.9L644.7,342.6L640.6,343.2Z" fill="#2b8cbe"/>
<path d="M636.5,344.4L639.4,344.7L640,346.2L637.6,346.2Z" fill="#2b8cbe"/>
<path d="M646.2,345.3L648.8,343.5L651.2,342.4L652.4,342.9L650,344.7L647.6,346.7Z" fill="#2b8cbe"/>
<path d="M651.2,342.4L654.1,341.4L655.6,341.8L652.9,343.2L652.4,342.9Z" fill="#f1eef6"/>
<path d="M614.7,316.5L616.5,317.6L620.6,317.1L625.3,312.9L630,309.4L632.4,308.8L635.3,310.6L634.5,313.5L636.5,317.1L635.3,318.8L634.1,321.8L631.8,325.3L630.9,329.4L627.6,330.6L623.5,328.8L620,328.2L617.3,327.1L616.5,323.5L614.5,320Z" fill="#2b8cbe"/>
<path d="M616.5,315.3L619.4,313.5L622.9,310.6L625.9,307.6L628.8,304.1L631.8,301.8L634.7,304.7L637.6,306.5L636.5,308.8L635.3,310.6L632.4,308.8L630,309.4L625.3,312.9L620.6,317.1L616.5,317.6Z" fill="#a6bddb"/>
<path d="M626.7,307.4L628.2,306.5L628.8,308.2L627.4,308.8Z" fill="#f1eef6"/>
<path d="M638.2,324.1L640,320L641.8,317.6L645.3,317.3L649.4,316.8L651.8,316.1L651.2,318L648.2,319.4L644.1,320L642.4,321.2L644.1,322.9L647.4,322L646.2,324.1L643.5,325.3L644.7,328.2L646.5,331.8L646.2,334.5L644.4,333.5L642.9,330L641.5,327.6L641.2,331.2L640.8,334.7L638.5,334.5L638,330L637.1,327.6Z" fill="#2b8cbe"/>
<path d="M657.1,314.9L658.8,314.7L660,317.6L659.4,320.8L658.2,322.4L657.6,319.4L657.1,317.1Z" fill="#2b8cbe"/>
<path d="M653.3,328.2L655.9,327.9L656.1,329.4L653.5,329.8Z" fill="#2b8cbe"/>
<path d="M658.2,327.6L661.8,327.4L664.7,328.8L664.1,330L660.6,329.4L658.2,328.8Z" fill="#2b8cbe"/>
<path d="M664.4,322.4L667.6,321.2L671.2,321.5L672.4,324.1L671.8,325.9L674.7,327.6L677.6,325.9L681.2,324.7L685.3,325.3L688.2,327.1L687.9,343.5L685.5,342.4L682.9,340.6L680,341.8L681.8,338.8L680,337.1L677.6,335.3L674.7,332.4L672.4,329.4L669.4,328.2L667.6,325.3L665.3,324.1Z" fill="#2b8cbe"/>
<path d="M671.8,335.3L672.9,334.5L673.3,336.5L672.1,337.6Z" fill="#2b8cbe"/>
<path d="M637.1,272.6L638.8,271.5L641.2,272.6L641.4,276.2L640.6,279.7L642.4,282.1L644.7,283.2L647.1,285.6L646.5,286.8L644.1,285.6L642.4,285L641.2,286.8L639.4,284.4L637.6,281.5L636.5,278.5L636.5,275.6Z" fill="#a6bddb"/>
<path d="M641.2,287.4L642.9,286.8L643.5,289.1L641.8,289.4Z" fill="#a6bddb"/>
<path d="M642.4,289.7L645.9,288.5L649.4,289.1L651.2,290.9L649.4,292.6L647.1,292.1L644.7,293.2L642.9,292.6Z" fill="#a6bddb"/>
<path d="M632.4,297.9L635.3,293.8L637.6,290.9L638.2,291.5L635.9,295L633.5,298.5Z" fill="#a6bddb"/>
<path d="M643.5,300L646.5,298.2L649.4,295.9L652.4,294.7L654.1,297.1L654.5,301.2L653.5,304.7L651.2,305.3L649.4,302.9L648.2,301.2L645.3,301.8Z" fill="#a6bddb"/>
<path d="M687.5,326.5L694.1,328.8L698.8,333.1L702.4,337.1L704.7,341.8L708.9,346.5L705.9,347.2L700,344.1L695.3,341.8L690.6,344.1L687.1,342.5Z" fill="#f1eef6"/>
<path d="M704.7,334.9L709.9,333.5L713.6,330L712.2,327.2L714.1,326.5L716,330.7L711.8,335.6L705.9,336.6Z" fill="#f1eef6"/>
<path d="M718.8,334L721.2,335.9L720.5,336.8L718.4,334.9Z" fill="#f1eef6"/>
<path d="M724,337.8L727.8,340.1L727.1,341.1L723.5,338.9Z" fill="#f1eef6"/>
<path d="M729.6,342L733.4,345.3L734.8,347.6L733.4,347.6L730.6,344.4Z" fill="#f1eef6"/>
<path d="M743.5,358.2L745.2,358.9L745.4,362.9L744,362.2Z" fill="#f1eef6"/>
<path d="M734.1,372.4L736.5,371.6L740.5,377.1L738.8,378.7L735.3,375.4Z" fill="#f1eef6"/>
<path d="M766.6,365.3L770.6,362.9L773.4,362.2L772.9,363.6L768.2,366.9Z" fill="#f1eef6"/>
<path d="M614.1,408.2L616.5,401.2L616.9,390.6L618.8,381.2L621.2,377.6L629.4,372.9L637.6,369.4L642.4,363.5L649.4,358.8L655.3,356.5L661.6,351.8L667.1,349.4L670.6,351.3L676.5,351.3L674.8,355.3L677.6,360L683.5,365.4L686.6,357.6L688.2,350.6L689.9,348.2L691.8,354.1L694.6,358.8L696,365.9L700.7,372.9L703.5,380L705.9,385.9L704.7,392.9L701.2,400L695.3,407.1L690.6,412.9L685.9,417.6L680,420L675.3,421.9L670.6,420.5L665.9,417.6L664.7,411.8L662.4,409.4L660,410.6L657.6,405.9L652.9,403.1L645.9,403.1L637.6,405.4L631.8,408.2L623.5,409.4L617.6,411.1Z" fill="#2b8cbe"/>
<path d="M668.7,427.1L676.5,426.6L674.8,430.6L670.6,433.6L667.8,432.9Z" fill="#2b8cbe"/>
<path d="M732.2,427.1L735.3,422.4L739.3,418.8L738.8,410.6L741.2,410.1L742.4,415.3L746.4,418.8L742.4,422.8L737.6,426.6L733.6,428.9Z" fill="#d0d1e6"/>
<path d="M705.4,438.8L710.6,435.3L717.6,432.2L723.5,429.4L728.9,426.6L730.6,428.2L727.1,431.8L720,435.3L712.9,440L707.1,441.6Z" fill="#d0d1e6"/>
<path d="M9.2,267.6L11.2,267.1L12.1,268.6L10.8,270.6L9.4,270.6Z" fill="#045a8d"/>
<path d="M5.3,263.5L7.1,263.9L10,265.1L9.6,265.6L7.1,264.8L5.3,264.4Z" fill="#045a8d"/>
<path d="M1.9,262L3.3,261.8L3.5,262.6L2.1,262.8Z" fill="#045a8d"/>
<path d="M430,200L432.4,200.8L435.3,201.5L437.1,202.9L434.7,203.9L432.4,204.4L430,203.5L428.8,201.8Z" fill="#a6bddb"/>
<path d="M441.2,203.2L438.2,202.7L440,201.2L441.4,199.4Z" fill="#2b8cbe" style="stroke:none"/>
<path d="M647.6,286.8L650,287.9L650.8,291.2L649.1,290.5Z" fill="#a6bddb"/>
<path d="M642.9,290.3L645.3,289.7L646.5,292.6L644.7,294.1L643.3,292.4Z" fill="#a6bddb"/>
<path d="M646.8,292.9L648.5,292.4L648.9,294.4L647.3,294.8Z" fill="#a6bddb"/>
<path d="M0,314L1.5,314L1.5,316L0,316Z" fill="#f1eef6"/>
<path class="b" d="M343.2,249.2L348.9,254.1L350.3,279.5L336.2,280.9L334.8,278.8L329.1,276L324.2,277.4"/>
<path class="b" d="M333.4,263.3L334.1,255.5L343.2,251.3"/>
<path class="b" d="M336.2,280.9L336.2,285.9L331.2,287.3L325.6,288"/>
<path class="b" d="M324.9,284.5L331.2,284L331.2,285.9L324.9,286.3"/>
<path class="b" d="M328.4,288.7L333.4,288.7L337.6,288L343.2,289.4L345.4,293.6L343.9,296.5L340.4,298.6L338.3,295.8L336.2,293.6L333.4,295.1"/>
<path class="b" d="M337.6,288L336.2,285.9"/>
<path class="b" d="M338.3,295.8L337.6,299.3L334.8,300"/>
<path class="b" d="M340.4,298.6L343.9,302.1L345.4,306.4"/>
<path class="b" d="M345.4,293.6L351.7,294.4L355.9,295.1L356.6,306.4"/>
<path class="b" d="M348.9,254.1L371.5,269.6L372.2,276.7L368.6,280.9L363.7,282.4L360.9,280.9L355.9,283.8L351.7,289.4L351.7,294.4"/>
<path class="b" d="M363.7,282.4L366.5,287.3L368.6,288.7L364.4,291.5L356.6,291.5"/>
<path class="b" d="M363.7,295.8L365.8,292.9L368.6,288.7L371.5,289.4"/>
<path class="b" d="M365.8,292.9L367,296.5L367.2,304.2"/>
<path class="b" d="M371.5,269.6L388.4,259.8L396.2,260.5L398.3,268.2L396.9,276.7L394.8,282.4L396.2,285.2"/>
<path class="b" d="M396.2,260.5L416.6,268.2L417.4,279.5L414.5,282.4L415.2,288L419.5,295.8L413.8,296.5L408.2,297.9L402.5,300L398.3,300.7L399.7,296.5L396.9,292.2L396.2,288.7"/>
<path class="b" d="M398.3,300.7L396.9,304.9L398.3,310.6L400.4,313.4L394.1,314.1L388.4,313.4L384.9,310.6L384.2,302.8"/>
<path class="b" d="M419.5,295.8L422.3,299.3L426.5,303.5L432.2,306.4L435,309.2"/>
<path class="b" d="M400.4,313.4L405.4,310.6L408.2,307.8L413.8,309.2L419.5,306.4L425.1,307.8L435,309.2"/>
<path class="b" d="M404.1,310.3L413.5,307.9L422.9,309.1L432.4,307.9L437.1,311.5L434.7,318.5L433.5,327.5L431.9,332.6L433.5,339.7L438.2,346.8"/>
<path class="b" d="M393.5,332.6L399.4,330.3L402.9,323.2L404.1,316.2L404.1,310.3L399.4,313.8L395.9,318.5L385.3,318.5"/>
<path class="b" d="M395.9,318.5L390,325.6L391.2,332.6"/>
<path class="b" d="M421.8,295L424.1,300.9L427.6,306.8L434.7,307.9L440.6,307.9L446.5,305.6"/>
<path class="b" d="M434.7,307.9L433.5,316.2L434.7,323.2"/>
<path class="b" d="M472.4,298.5L467.6,304.4L460.6,307.9L459.4,308.6"/>
<path class="b" d="M449.3,271.5L453.5,276.6L458.7,285.1L457.1,285.6"/>
<path class="b" d="M460.8,288.9L459.6,290.3"/>
<path class="b" d="M414.1,348.2L417.6,349.4L424.7,348.2L428.2,342.4L432.9,340"/>
<path class="b" d="M442.4,349.4L440,357.6L432.9,361.2L428.2,364.7L421.2,365.9L413.4,364.7"/>
<path class="b" d="M432.9,361.2L437.6,364.7L436.5,372.9L430.6,377.6"/>
<path class="b" d="M421.2,365.9L422.4,370.6L425.9,375.3L430.6,377.6"/>
<path class="b" d="M440,357.6L437.6,364.7"/>
<path class="b" d="M436.5,372.9L435.3,381.2"/>
<path class="b" d="M437.6,344.7L441.2,345.9L443.5,352.9L442.4,358.8L440.7,355.3"/>
<path class="b" d="M413.4,364.7L410.6,367.1L409.4,377.6L408.2,389.4"/>
<path class="b" d="M409.4,377.6L410.6,367.1"/>
</g>
<g id="legend">
<rect x="149.5" y="537.5" width="47.3" height="11" fill="url(#hatch)" stroke="#bbb" stroke-width="1"/><path d="M173,534.5V537.5" stroke="#bbb" stroke-width="0.8" fill="none"/>
<rect x="216.5" y="537.5" width="81" height="11" fill="#f1eef6" stroke="#bbb" stroke-width="0.6"/>
<rect x="297.5" y="537.5" width="80.5" height="11" fill="#d0d1e6" stroke="#aab" stroke-width="0.6"/>
<rect x="378" y="537.5" width="80.5" height="11" fill="#a6bddb" stroke="#9ab" stroke-width="0.6"/>
<rect x="458.5" y="537.5" width="80.5" height="11" fill="#74a9cf" stroke="#79b" stroke-width="0.6"/>
<rect x="539" y="537.5" width="80.5" height="11" fill="#2b8cbe" stroke="#38b" stroke-width="0.6"/>
<path d="M619.5,537.5H695.5L701,543L695.5,548.5H619.5Z" fill="#045a8d" stroke="#045a8d" stroke-width="0.6"/>
<path d="M216.5,534V548.5M297.5,534V548.5M378,534V548.5M458.5,534V548.5M539,534V548.5M619.5,534V548.5" stroke="#999" stroke-width="0.8" fill="none"/>
</g>
</svg>
<div class="lg" style="left:149px;font-size:13.5px">No data</div>
<div class="lg" style="left:209px">0 t</div>
<div class="lg" style="left:264px">10 million t</div>
<div class="lg" style="left:345px">30 million t</div>
<div class="lg" style="left:422px">100 million t</div>
<div class="lg" style="left:506px">30 million t</div>
<div class="lg" style="left:592px">1 billion t</div>
<div id="src"><b style="font-size:12px;letter-spacing:-0.1px">Data source:</b><span style="position:absolute;left:76.5px">Global Carbon Budget (2025)</span></div>
<div id="url">OurWorldinData.org/co2-and-greenhouse-gas-emissions | CC BY</div>
</body></html>
